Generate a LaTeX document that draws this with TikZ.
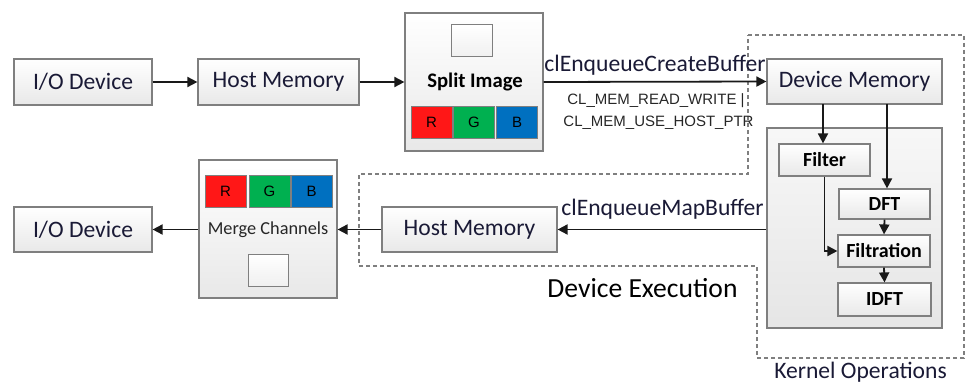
\documentclass[tikz,border=0pt]{standalone}
\usepackage{fontspec}
\setmainfont{Carlito}
\newfontfamily\arialf{Liberation Sans}
\usetikzlibrary{arrows.meta,shadows}
\definecolor{txt}{HTML}{1A1A36}
\definecolor{bordc}{HTML}{7F7F7F}
\definecolor{rr}{HTML}{FF1717}
\definecolor{gg}{HTML}{00B050}
\definecolor{bb}{HTML}{0070C0}
\tikzset{
  box/.style={draw=bordc, line width=1.2pt, top color=white, bottom color=black!9, inner sep=0pt,
    text=txt, font=\fontsize{23.6}{28}\selectfont,
    drop shadow={shadow xshift=1.2pt, shadow yshift=-1.2pt, opacity=0.25, fill=black}},
  kbox/.style={draw=bordc, line width=1.2pt, top color=white, bottom color=black!9, inner sep=0pt,
    text=black, font=\fontsize{20}{24}\selectfont\bfseries,
    drop shadow={shadow xshift=1pt, shadow yshift=-1pt, opacity=0.2, fill=black}},
  sq/.style={draw=bordc, line width=1pt, top color=white, bottom color=black!6, inner sep=0pt,
    minimum width=41pt, minimum height=32pt},
  ch/.style={draw=bordc, line width=0.8pt, inner sep=0pt, minimum width=41pt, minimum height=32pt,
    font=\arialf\fontsize{15}{18}\selectfont, text=black},
  arr/.style={line width=1.8pt, draw=black!90, -{Triangle[width=10pt,length=10pt]}},
  lbl/.style={text=txt, font=\fontsize{23.6}{28}\selectfont, inner sep=0pt},
  small/.style={text=black!85, font=\arialf\fontsize{15}{18}\selectfont, inner sep=0pt},
}
\begin{document}
\begin{tikzpicture}[x=1pt,y=-1pt]
\useasboundingbox (0,0) rectangle (965,385);
% dashed region
\draw[draw=bordc, line width=1.4pt, dash pattern=on 4pt off 3pt]
  (748,35) -- (964,35) -- (964,358) -- (757,358) -- (757,266) -- (359,266) -- (359,174) -- (748,174) -- cycle;

% top row
\node[box, minimum width=138pt, minimum height=46pt] (io1) at (83,82) {I/O Device};
\node[box, minimum width=161pt, minimum height=46pt] (hm1) at (278.5,82) {Host Memory};
\node[box, minimum width=138pt, minimum height=138pt] (split) at (474,82) {};
\node[sq] (sqa) at (471.5,41) {};
\node[text=black, font=\fontsize{20.7}{24}\selectfont\bfseries, inner sep=0pt] (splitlbl) at (475,82) {Split Image};
\node[ch, fill=rr] (r1) at (431.5,122) {R};
\node[ch, fill=gg] (g1) at (474,122) {G};
\node[ch, fill=bb] (b1) at (517,122) {B};
\node[box, minimum width=175pt, minimum height=45pt] (dm) at (854.5,81.5) {Device Memory};

% kernel box
\node[draw=bordc, line width=1.2pt, top color=black!3, bottom color=black!10, inner sep=0pt,
  minimum width=175pt, minimum height=200pt,
  drop shadow={shadow xshift=1.2pt, shadow yshift=-1.2pt, opacity=0.25, fill=black}] (kern) at (854.5,228) {};
\node[kbox, minimum width=91pt, minimum height=32pt] (filter) at (824.5,160) {Filter};
\node[kbox, minimum width=91pt, minimum height=30pt] (dft) at (884.5,204) {DFT};
\node[kbox, minimum width=92pt, minimum height=32pt] (filtr) at (884,251) {Filtration};
\node[kbox, minimum width=93pt, minimum height=33pt] (idft) at (884.5,299.5) {IDFT};

% bottom row
\node[box, minimum width=138pt, minimum height=45pt] (io2) at (83,229.5) {I/O Device};
\node[box, minimum width=138pt, minimum height=138pt] (merge) at (268,229) {};
\node[ch, fill=rr] (r2) at (225.5,191) {R};
\node[ch, fill=gg] (g2) at (269.5,191) {G};
\node[ch, fill=bb] (b2) at (311.5,191) {B};
\node[text=black!85, font=\fontsize{18.3}{22}\selectfont, inner sep=0pt] (mergelbl) at (268,230) {Merge Channels};
\node[sq, minimum width=40pt] (sqb) at (268,270) {};
\node[box, minimum width=175pt, minimum height=45pt] (hm2) at (469.5,229.5) {Host Memory};

% arrows top
\draw[arr] (io1.east) -- (hm1.west);
\draw[arr] (hm1.east) -- (split.west);
\draw[arr] (split.east) -- (dm.west);
\node[lbl, anchor=base] (ceb) at (655,72) {clEnqueueCreateBuffer};
\node[small, anchor=base] (f1) at (656,104) {CL\_MEM\_READ\_WRITE |};
\node[small, anchor=base] (f2) at (658.5,126) {CL\_MEM\_USE\_HOST\_PTR};

% kernel arrows
\coordinate (d1) at (823,104);
\draw[arr] (d1) -- (d1 |- filter.north);
\coordinate (d2) at (887,104);
\draw[arr] (d2) -- (d2 |- dft.north);
\draw[arr] (dft.south) -- (filtr.north);
\draw[arr] (filtr.south) -- (idft.north);
\draw[arr] (filter.south) -- (filter.south |- filtr.west) -- (filtr.west);

% bottom arrows
\draw[arr] (kern.west |- hm2.east) -- (hm2.east);
\node[lbl, anchor=base] (cmb) at (662.5,215) {clEnqueueMapBuffer};
\draw[arr] (hm2.west) -- (merge.east |- hm2.west);
\draw[arr] (merge.west |- io2.east) -- (io2.east);

% region labels
\node[text=black, font=\fontsize{27.6}{32}\selectfont, inner sep=0pt, anchor=base] (dex) at (642.5,297) {Device Execution};
\node[lbl, anchor=base] (kop) at (860.5,378) {Kernel Operations};
\end{tikzpicture}
\end{document}
